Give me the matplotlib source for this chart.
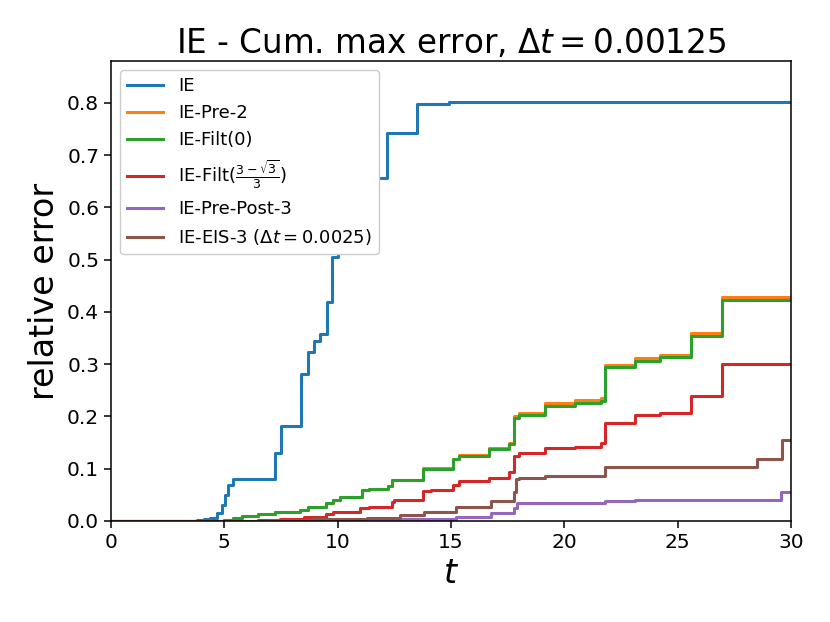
import numpy as np
import matplotlib.pyplot as plt

# cumulative max error (step post)
t_ie = [0, 3.5, 3.8, 4.1, 4.37, 4.66, 4.88, 5.03, 5.17, 5.39, 7.22, 7.52, 8.4, 8.69,
        8.94, 9.24, 9.52, 9.77, 10.0, 10.3, 10.7, 11.2, 11.6, 12.18, 13.52, 14.9, 30]
y_ie = [0, 0.0005, 0.001, 0.003, 0.006, 0.015, 0.03, 0.05, 0.069, 0.080, 0.130, 0.182, 0.281, 0.323,
        0.345, 0.358, 0.419, 0.505, 0.512, 0.55, 0.59, 0.62, 0.657, 0.742, 0.797, 0.801, 0.801]

t_filt0 = [0, 4.5, 5.0, 5.4, 5.8, 6.5, 7.23, 8.34, 8.7, 9.5, 9.8, 10.1, 11.06, 11.4,
           12.2, 12.4, 13.75, 15.1, 15.34, 16.69, 17.57, 17.79, 18.01, 19.15, 20.47,
           21.62, 21.79, 23.13, 24.22, 25.59, 26.94, 30]
y_filt0 = [0, 0.0005, 0.002, 0.006, 0.010, 0.013, 0.018, 0.021, 0.027, 0.034, 0.040, 0.045, 0.059, 0.062,
           0.066, 0.078, 0.100, 0.118, 0.124, 0.137, 0.147, 0.197, 0.203, 0.220, 0.226,
           0.230, 0.294, 0.306, 0.313, 0.354, 0.423, 0.423]

t_pre2 = t_filt0
y_pre2 = [0, 0.0005, 0.002, 0.006, 0.010, 0.013, 0.018, 0.021, 0.027, 0.034, 0.040, 0.045, 0.059, 0.062,
          0.066, 0.079, 0.101, 0.119, 0.126, 0.139, 0.149, 0.200, 0.206, 0.225, 0.232,
          0.235, 0.299, 0.311, 0.318, 0.359, 0.428, 0.428]

t_filtr = [0, 5.3, 6.5, 7.45, 8.5, 9.5, 9.8, 11.0, 11.4, 12.4, 12.5, 13.75, 14.1,
           15.1, 15.34, 16.69, 17.57, 17.79, 18.01, 19.15, 20.47, 21.62, 21.79,
           23.13, 24.22, 25.59, 26.94, 30]
y_filtr = [0, 0.0005, 0.002, 0.004, 0.008, 0.013, 0.018, 0.024, 0.027, 0.037, 0.041, 0.057, 0.059,
           0.069, 0.077, 0.083, 0.094, 0.125, 0.130, 0.139, 0.142, 0.150, 0.188,
           0.203, 0.207, 0.240, 0.300, 0.300]

t_pp3 = [0, 9.0, 12.0, 13.5, 15.22, 16.76, 17.79, 17.92, 21.79, 23.13, 29.56, 30]
y_pp3 = [0, 0.001, 0.003, 0.004, 0.008, 0.016, 0.025, 0.034, 0.039, 0.041, 0.056, 0.056]

t_eis3 = [0, 7.0, 8.9, 11.3, 12.75, 13.82, 15.22, 16.76, 17.79, 17.87, 18.01, 19.15,
          21.79, 28.49, 29.59, 30]
y_eis3 = [0, 0.001, 0.003, 0.006, 0.011, 0.017, 0.026, 0.039, 0.055, 0.080, 0.083, 0.087,
          0.104, 0.119, 0.154, 0.154]

fig = plt.figure(figsize=(8.3, 6.22), dpi=100)
ax = fig.add_axes([0.1337, 0.1624, 0.8193, 0.7396])

lw = 2.2
ax.step(t_ie, y_ie, where='post', lw=lw, color='C0', label='IE')
ax.step(t_pre2, y_pre2, where='post', lw=lw, color='C1', label='IE-Pre-2')
ax.step(t_filt0, y_filt0, where='post', lw=lw, color='C2', label='IE-Filt(0)')
ax.step(t_filtr, y_filtr, where='post', lw=lw, color='C3',
        label=r'IE-Filt($\frac{3-\sqrt{3}}{3}$)')
ax.step(t_pp3, y_pp3, where='post', lw=lw, color='C4', label='IE-Pre-Post-3')
ax.step(t_eis3, y_eis3, where='post', lw=lw, color='C5',
        label=r'IE-EIS-3 ($\Delta t = 0.0025$)')

ax.set_xlim(0, 30)
ax.set_ylim(0, 0.88)
ax.set_xticks([0, 5, 10, 15, 20, 25, 30])
ax.set_yticks(np.arange(0, 0.81, 0.1))
ax.tick_params(labelsize=14.5, length=5, width=1.1)
for s in ax.spines.values():
    s.set_linewidth(1.1)

ax.set_title(r'IE - Cum. max error, $\Delta t = 0.00125$', fontsize=23.5)
ax.set_xlabel(r'$t$', fontsize=24)
ax.set_ylabel('relative error', fontsize=24)
ax.legend(loc='upper left', fontsize=13, framealpha=1)

fig.savefig('out.png', dpi=100)
